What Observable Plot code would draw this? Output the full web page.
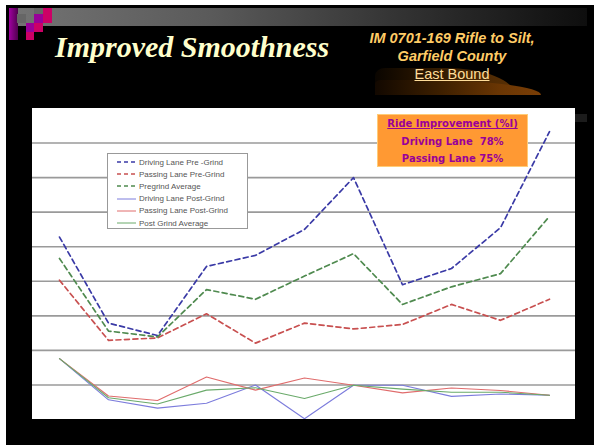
<!DOCTYPE html>
<html>
<head>
<meta charset="utf-8">
<script src="https://cdn.jsdelivr.net/npm/d3@7"></script>
<script src="https://cdn.jsdelivr.net/npm/@observablehq/plot@0.6"></script>
<style>
  html, body { margin: 0; padding: 0; background: #fff; }
  #page { position: relative; width: 594px; height: 445px; overflow: hidden; background: #fff; }
  #slide { position: absolute; left: 6px; top: 5px; width: 588px; height: 440px; background: #000; }
  .abs { position: absolute; }
  #bar { left: 9px; top: 8px; width: 578px; height: 18px; background: linear-gradient(to right, #747474 0%, #5a5a5a 35%, #2a2a2a 75%, #0e0e0e 100%); }
  .sq { position: absolute; }
  #title { left: 55px; top: 32px; font: italic bold 30px "Liberation Serif", "Times New Roman", serif; color: #ffffcc; line-height: 30px; white-space: nowrap; }
  #sub { left: 352px; top: 29px; width: 200px; text-align: center; font: italic bold 14.5px "Liberation Sans", Arial, sans-serif; color: #ffcc66; line-height: 18px; white-space: nowrap; }
  #sub .eb { font-style: normal; font-weight: normal; text-decoration: underline; color: #ffdd99; }
  #swoosh1 { left: 375px; top: 68px; width: 140px; height: 27px; background: linear-gradient(to right, #0a0500 0%, #2e1800 40%, #4e2a04 80%, #5a3004 100%); border-top-left-radius: 10px 8px; border-top-right-radius: 70px 27px; }
  #swoosh2 { left: 375px; top: 80px; width: 166px; height: 15px; background: linear-gradient(to right, #120800 0%, #3e2000 40%, #6a3604 75%, #7a3e06 100%); border-top-left-radius: 6px 4px; border-top-right-radius: 120px 15px; }
  #chart { left: 32px; top: 108px; }
  #legend { left: 107px; top: 153px; width: 141px; height: 76px; border: 1px solid #999; background: #fff; box-sizing: border-box; padding-top: 2px; }
  .row { height: 12.2px; display: flex; align-items: center; font: 8px "Liberation Sans", Arial, sans-serif; color: #555; white-space: nowrap; }
  .row svg { margin-left: 9px; margin-right: 3px; }
  #box { left: 377px; top: 114px; width: 151px; height: 53px; background: #ff9933; border: 1px solid #ffcc77; box-sizing: border-box; text-align: center; font: bold 10px "DejaVu Sans", Verdana, sans-serif; color: #990099; line-height: 17.5px; white-space: nowrap; }
  #box .u { text-decoration: underline; }
  #cornerbox { left: 575px; top: 114px; width: 12px; height: 8px; background: #1c1c1c; }
</style>
</head>
<body>
<div id="page">
  <div id="slide"></div>
  <div id="bar" class="abs"></div>
  <div id="squares"></div>
  <div id="title" class="abs">Improved Smoothness</div>
  <div id="swoosh1" class="abs"></div>
  <div id="swoosh2" class="abs"></div>
  <div id="sub" class="abs">IM 0701-169 Rifle to Silt,<br>Garfield County<br><span class="eb">East Bound</span></div>
  <div id="cornerbox" class="abs"></div>
  <div id="chart" class="abs"></div>
  <div id="legend" class="abs"></div>
  <div id="box" class="abs"><span class="u">Ride Improvement (%I)</span><br>Driving Lane&nbsp; 78%<br>Passing Lane 75%</div>
</div>
<script>
// ---- Data (1 unit = one gridline step) ----
const segments = [1, 2, 3, 4, 5, 6, 7, 8, 9, 10, 11];
const drivingPre  = [5.28, 2.79, 2.43, 4.43, 4.75, 5.50, 7.00, 3.90, 4.37, 5.55, 8.33];
const passingPre  = [4.03, 2.29, 2.36, 3.06, 2.21, 2.79, 2.62, 2.75, 3.33, 2.87, 3.48];
const pregrindAvg = [4.66, 2.56, 2.39, 3.76, 3.48, 4.15, 4.80, 3.33, 3.84, 4.22, 5.88];
const drivingPost = [1.76, 0.57, 0.33, 0.47, 1.00, 0.02, 0.99, 0.99, 0.67, 0.74, 0.70];
const passingPost = [1.76, 0.68, 0.55, 1.23, 0.85, 1.20, 0.99, 0.77, 0.91, 0.84, 0.70];
const postAvg     = [1.76, 0.63, 0.45, 0.85, 0.92, 0.61, 0.99, 0.88, 0.79, 0.79, 0.70];
const gridTicks = [1, 2, 3, 4, 5, 6, 7, 8];

const seriesNames = ["Driving Lane Pre -Grind", "Passing Lane Pre-Grind", "Pregrind Average",
                     "Driving Lane Post-Grind", "Passing Lane Post-Grind", "Post Grind Average"];
const seriesValues = [drivingPre, passingPre, pregrindAvg, drivingPost, passingPost, postAvg];
const seriesColors = ["#3a3aa6", "#c85050", "#4f8a4f", "#7c7cdc", "#e06c6c", "#6aaa6a"];
const seriesDashed = [true, true, true, false, false, false];

const rows = [];
seriesNames.forEach((name, i) => {
  segments.forEach((s, j) => rows.push({series: name, seg: s, value: seriesValues[i][j]}));
});

// ---- Decorative squares ----
const sqColors = [
  {x: 9, y: 8, w: 8.6, h: 32, bg: "linear-gradient(to right, #a000a0, #50004e)"},
  {x: 34, y: 8, w: 9, h: 6, bg: "#666"},
  {x: 43, y: 8, w: 9, h: 6, bg: "#cc0066"},
  {x: 17, y: 14, w: 9, h: 9, bg: "#666"},
  {x: 34, y: 14, w: 9, h: 9, bg: "#990099"},
  {x: 43, y: 14, w: 9, h: 9, bg: "#cc0066"},
  {x: 26, y: 23, w: 8, h: 9, bg: "#990099"},
  {x: 34, y: 23, w: 9, h: 9, bg: "#cc0066"},
  {x: 26, y: 32, w: 8, h: 8, bg: "#cc0066"}
];
const sqHost = document.getElementById("squares");
sqColors.forEach(s => {
  const d = document.createElement("div");
  d.className = "sq";
  d.style.left = s.x + "px"; d.style.top = s.y + "px";
  d.style.width = s.w + "px"; d.style.height = s.h + "px";
  d.style.background = s.bg;
  sqHost.appendChild(d);
});

// ---- Chart ----
const chart = Plot.plot({
  width: 543,
  height: 311,
  margin: 0,
  style: {background: "#ffffff", overflow: "hidden"},
  x: {type: "point", domain: segments, padding: 0.5, axis: null},
  y: {domain: [0, 9], axis: null},
  color: {domain: seriesNames, range: seriesColors},
  marks: [
    Plot.ruleY(gridTicks, {stroke: "#9a9a9a", strokeWidth: 1.6}),
    ...seriesNames.map((name, i) => Plot.line(rows.filter(r => r.series === name), {
      x: "seg", y: "value",
      stroke: seriesColors[i],
      strokeWidth: seriesDashed[i] ? 1.7 : 1.1,
      strokeDasharray: seriesDashed[i] ? "5,3.5" : null
    }))
  ]
});
document.getElementById("chart").appendChild(chart);

// ---- Legend ----
const leg = document.getElementById("legend");
seriesNames.forEach((name, i) => {
  const r = document.createElement("div");
  r.className = "row";
  const dash = seriesDashed[i] ? 'stroke-dasharray="4,3"' : '';
  r.innerHTML = `<svg width="19" height="6"><line x1="0" y1="3" x2="19" y2="3" stroke="${seriesColors[i]}" stroke-width="${seriesDashed[i] ? 1.5 : 1}" ${dash}/></svg><span>${name}</span>`;
  leg.appendChild(r);
});
</script>
</body>
</html>
